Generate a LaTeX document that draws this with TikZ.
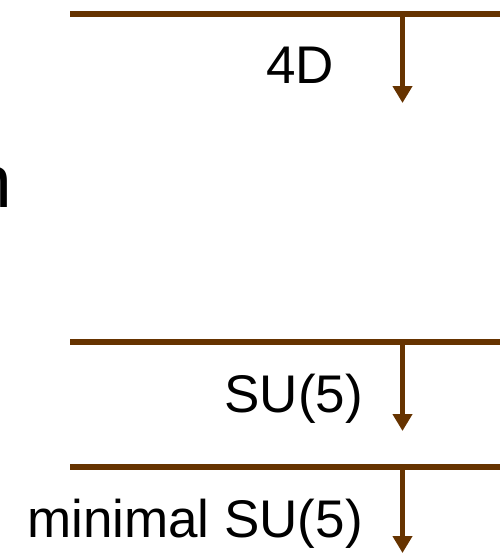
\documentclass[tikz,border=0pt]{standalone}
\usepackage{fontspec}
\setmainfont{Liberation Sans}
\usetikzlibrary{arrows.meta}
\definecolor{brn}{RGB}{102,51,0}
\begin{document}
\begin{tikzpicture}[x=1pt,y=-1pt,
  bar/.style={draw=brn,line width=6pt},
  drop/.style={draw=brn,line width=5.5pt,-{Triangle[width=19pt,length=17pt]}},
  lbl/.style={font=\fontsize{53}{60}\selectfont,inner sep=0pt,anchor=base east}]
\useasboundingbox (0,0) rectangle (500,554);
\clip (0,0) rectangle (500,554);
% levels
\coordinate (l1a) at (70,13.5);  \coordinate (l1b) at (505,13.5);
\coordinate (l2a) at (70,341.5); \coordinate (l2b) at (505,341.5);
\coordinate (l3a) at (70,466.5); \coordinate (l3b) at (505,466.5);
\coordinate (a1s) at (402.5,14); \coordinate (a1e) at (402.5,103);
\coordinate (a2s) at (402.5,342); \coordinate (a2e) at (402.5,431);
\coordinate (a3s) at (402.5,467); \coordinate (a3e) at (402.5,553);
\draw[bar] (l1a) -- (l1b);
\draw[bar] (l2a) -- (l2b);
\draw[bar] (l3a) -- (l3b);
\draw[drop] (a1s) -- (a1e);
\draw[drop] (a2s) -- (a2e);
\draw[drop] (a3s) -- (a3e);
% labels
\node[lbl] (t1) at (334,83) {4D};
\node[lbl] (t2) at (363,412) {SU(5)};
\node[lbl] (t3) at (363,537) {minimal SU(5)};
\node[inner sep=0pt,anchor=base east,font=\fontsize{75}{80}\selectfont] (t0) at (12,207) {n};
\end{tikzpicture}
\end{document}
